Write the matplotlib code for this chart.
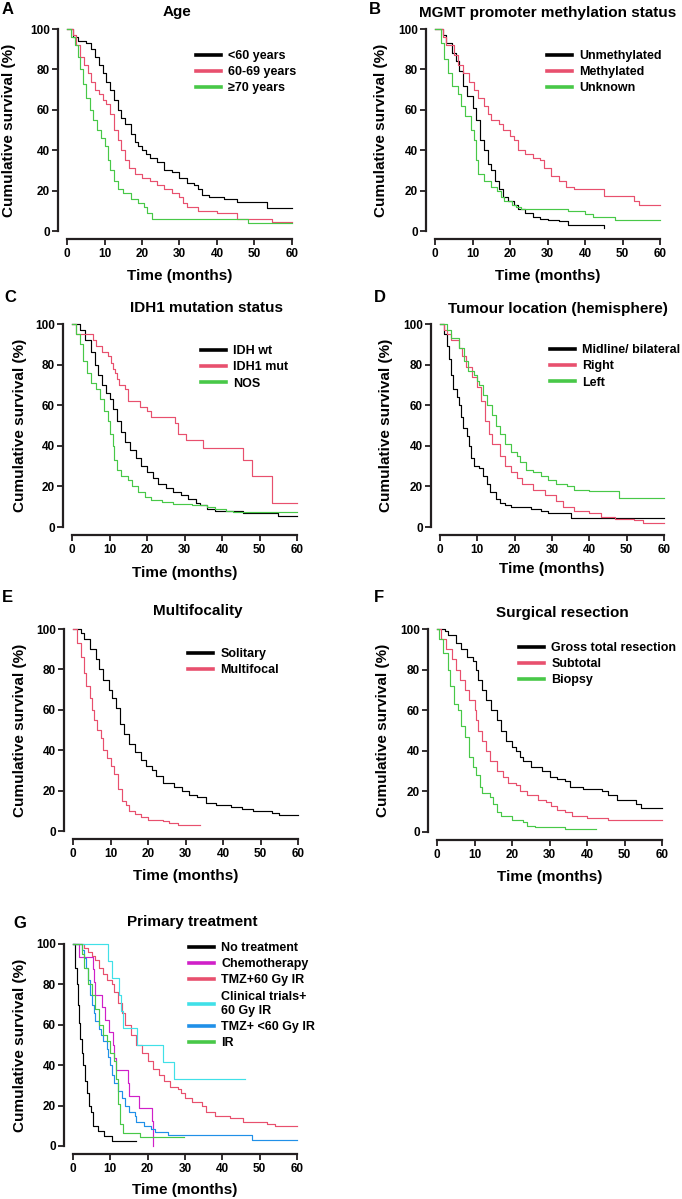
import matplotlib
matplotlib.use('Agg')
import matplotlib.pyplot as plt
from matplotlib.lines import Line2D

plt.rcParams['font.family'] = ['Liberation Sans', 'DejaVu Sans']
plt.rcParams['font.weight'] = 'bold'

W, H = 682, 1199

# colours
BLACK = '#000000'
RED = '#e8506e'
GREEN = '#48c848'
MAGENTA = '#d020c8'
CYAN = '#40e0e8'
BLUE = '#2090e8'

# A - age
a_labels = ['<60 years', '60-69 years', '\u226570 years']
a_lt60_t = [0, 1.5, 3, 5, 6.5, 7.5, 8.5, 9.5, 10.5, 11.5, 12.5, 13.5, 14.5, 15.5, 17, 18, 19, 20, 21, 22, 24, 26, 28, 30, 32, 34, 35, 36, 38, 42, 45.3, 53.3, 60]
a_lt60_s = [100, 96, 94, 93, 90, 86, 82, 78, 74, 70, 65, 60, 56, 53, 48, 44, 42, 40, 38, 36, 34, 30, 29, 26, 24, 23, 21, 18, 17, 16, 14.5, 11.5, 11.5]
a_6069_t = [0, 1.5, 2.5, 3.5, 4.5, 5.5, 6.5, 7.5, 8.5, 9.5, 10.5, 11.5, 12.5, 13.5, 14.5, 15.5, 16.5, 18, 20, 22, 24, 26, 28, 30, 31, 32, 35, 40, 45.3, 54.7, 60]
a_6069_s = [100, 97, 92, 86, 82, 78, 74, 70, 68, 65, 63, 58, 50, 45, 40, 35, 31, 28, 26, 25, 23, 21, 19, 17, 14, 12, 10, 9, 6, 4.5, 4.5]
a_ge70_t = [0, 1, 2, 2.8, 3.5, 4.2, 5, 6, 7, 8, 9, 10, 10.8, 11.5, 12.5, 13.5, 15, 17, 19, 20.5, 21.3, 22.7, 48.3, 60]
a_ge70_s = [100, 96, 92, 86, 80, 73, 66, 60, 55, 50, 46, 42, 35, 30, 25, 21, 19, 16, 14, 12, 9, 6, 4, 4]

# B - MGMT
b_labels = ['Unmethylated', 'Methylated', 'Unknown']
b_unm_t = [0, 2, 3, 4.5, 5.5, 6.5, 7.5, 8.5, 10, 11, 12, 13, 14, 15, 16, 17, 18, 19.5, 21, 22, 24, 26, 28, 30, 33, 35.5, 45]
b_unm_s = [100, 97, 93, 88, 84, 79, 72, 67, 61, 55, 45, 40, 33, 30, 25, 21, 17, 15, 13, 11, 9, 7, 6, 5.5, 5, 3, 1.5]
b_meth_t = [0, 2, 3, 5, 6, 7.5, 9, 10.5, 11.5, 13, 14, 15, 17, 18, 20, 21, 22, 24, 26, 28, 29, 31, 33, 35, 37, 45, 53, 54.5, 60]
b_meth_s = [100, 96, 92, 87, 82, 78, 74, 70, 66, 62, 58, 55, 53, 50, 47, 45, 40, 38, 36, 35, 31, 27, 25, 22, 21, 17.5, 15, 13, 13]
b_unk_t = [0, 1.5, 2.5, 3.5, 4.5, 6, 7, 8, 9.5, 10.3, 11, 11.5, 13, 15, 16.5, 17.5, 18.5, 20.5, 21.5, 23, 35.5, 40, 42, 48, 60]
b_unk_s = [100, 93, 85, 78, 72, 68, 62, 57, 50, 45, 35, 28, 25, 22, 20, 17, 15, 13, 12, 11, 10, 8.5, 7, 5.5, 5.5]

# C - IDH1
c_labels = ['IDH wt', 'IDH1 mut', 'NOS']
c_wt_t = [0, 2, 3.5, 5, 6, 7, 8, 9, 10, 11, 12, 13, 14, 15.5, 17, 18.5, 20, 21.5, 23, 25, 27, 29, 31, 33, 34, 36, 38, 45.5, 55, 60]
c_wt_s = [100, 97, 92, 86, 80, 75, 70, 66, 63, 58, 52, 47, 42, 38, 34, 30, 27, 24, 21, 19, 17, 16, 14, 12, 11, 9, 8, 7, 5.5, 5.5]
c_mut_t = [0, 1, 5.5, 6.5, 8, 9.5, 10.5, 11, 11.5, 12, 12.5, 14, 15, 18, 20, 21, 27.5, 28.3, 30.5, 35, 45.5, 48, 53.2, 60]
c_mut_s = [100, 95, 92, 89, 86, 84, 81, 78, 76, 73, 70, 68, 62, 59, 57, 54, 51, 46, 43, 39, 33, 25, 12, 12]
c_nos_t = [0, 1, 2, 3, 4, 5, 6.5, 7.5, 8.5, 9.5, 10.2, 10.8, 11.3, 12, 13, 15, 16, 17.5, 19.5, 21, 24, 27, 32, 36, 38, 41, 43, 60]
c_nos_s = [100, 95, 90, 82, 76, 71, 68, 63, 57, 52, 46, 40, 33, 28, 25, 23, 20, 17, 15, 13.5, 12.5, 11.5, 11, 10, 9, 8, 7.5, 7.5]

# D - tumour location
d_labels = ['Midline/ bilateral', 'Right', 'Left']
d_mid_t = [0, 1, 2, 2.5, 3, 3.5, 4.5, 5, 5.5, 6.2, 7.2, 7.8, 8.3, 9, 10.5, 11.5, 12.5, 13.5, 15, 16, 17.5, 19, 24.5, 27, 29, 35, 60]
d_mid_s = [100, 95, 89, 83, 75, 68, 64, 60, 54, 49, 45, 40, 34, 30, 29, 25, 21, 17, 14, 12, 11, 10, 9, 8, 7, 4.5, 4.5]
d_right_t = [0, 1, 2, 3, 5, 6, 7, 8.5, 10, 11, 12, 13, 14, 16, 17.5, 19, 20.5, 22, 25, 28, 31, 33, 36, 40, 43, 47, 52, 54.5, 60]
d_right_s = [100, 97, 95, 92, 88, 84, 79, 74, 69, 62, 52, 46, 41, 35, 30, 27, 24, 21, 18, 16, 13, 10, 8, 7, 5, 4, 3.5, 2, 2]
d_left_t = [0, 2, 3, 5, 6.5, 7.5, 9, 10, 10.5, 11.5, 12.5, 14, 15, 16, 17.5, 19, 20.5, 21.5, 23, 25, 27, 29, 31, 34, 36, 40, 48, 60]
d_left_s = [100, 97, 93, 88, 82, 77, 75, 72, 70, 65, 60, 55, 50, 46, 41, 37, 35, 32, 28, 27, 25, 23, 21, 20, 18, 17.5, 14.5, 14.5]

# E - multifocality
e_labels = ['Solitary', 'Multifocal']
e_sol_t = [0, 2, 3, 4.5, 6, 7, 8, 9.5, 10.5, 11.5, 12.5, 13.5, 15, 16.5, 18, 19.5, 21, 22, 24, 27, 29, 31, 33, 35.5, 38, 42, 45, 48, 53, 55, 60]
e_sol_s = [100, 98, 95, 90, 85, 80, 75, 70, 66, 61, 53, 48, 43, 39, 35, 32, 30, 27, 24, 22, 20, 18, 17, 14, 13, 12, 11, 10, 9, 8, 8]
e_mul_t = [0, 1, 2, 3, 3.5, 4.5, 5, 5.5, 6.5, 7.5, 8, 9, 10, 11, 12, 13, 14, 15, 16.5, 18, 20, 24, 25.5, 28, 33.8]
e_mul_s = [100, 93, 86, 78, 72, 66, 60, 55, 50, 46, 40, 36, 32, 28, 21, 15, 13, 10, 8.5, 7, 5.5, 5, 4, 3, 3]

# F - surgical resection
f_labels = ['Gross total resection', 'Subtotal', 'Biopsy']
f_gtr_t = [0, 2, 3, 5, 6.5, 8, 9.5, 10.5, 11, 12, 13, 14.5, 16, 17, 18.5, 20, 21, 22, 23, 25, 28, 30, 32, 34, 35.5, 39, 44, 45.5, 48, 53, 54.5, 60]
f_gtr_s = [100, 99, 97, 93, 90, 86, 84, 80, 75, 70, 65, 60, 55, 50, 45, 42, 40, 37, 35, 32, 30, 27, 26, 25, 22, 21, 20, 18, 16, 14, 12, 12]
f_sub_t = [0, 1, 2.5, 4, 5, 6, 7.5, 8.5, 10, 10.5, 11, 12, 13, 14, 16, 17.5, 19, 21, 22, 24, 27, 29, 30.5, 32, 34, 36, 40, 45.5, 60]
f_sub_s = [100, 95, 90, 85, 80, 75, 70, 65, 60, 55, 50, 45, 40, 35, 30, 27, 24, 23, 20, 18, 16, 15, 13, 11, 10, 8, 7, 6, 6]
f_bio_t = [0, 0.5, 1.5, 3, 3.5, 4.5, 5.5, 6.5, 7.5, 8.5, 9.5, 10.5, 11.5, 12, 14, 15, 16, 17, 20, 23, 24, 26, 34, 42.3]
f_bio_s = [100, 95, 88, 80, 72, 63, 60, 52, 47, 37, 32, 28, 22, 19, 17, 14, 10, 8, 6, 5, 3, 2.5, 1.5, 1.5]

# G - primary treatment
g_labels = ['No treatment', 'Chemotherapy', 'TMZ+60 Gy IR', 'Clinical trials+\n60 Gy IR', 'TMZ+ <60 Gy IR', 'IR']
g_none_t = [0, 0.5, 1, 1.3, 1.7, 2, 2.4, 2.8, 3.3, 3.8, 4.3, 4.8, 5.3, 6.8, 8.3, 10.5, 17]
g_none_s = [100, 88, 80, 70, 61, 53, 46, 40, 32, 26, 20, 17, 10, 7.5, 5, 2.5, 2.5]
g_chemo_t = [0, 1.5, 5.3, 5.6, 6, 7.8, 8.5, 9.6, 10.8, 11, 11.5, 14.8, 15.1, 17.8, 21.1, 21.3]
g_chemo_s = [100, 93.75, 87.5, 81.25, 75, 68.75, 62.5, 56.25, 50, 43.75, 37.5, 31.25, 25, 18.75, 12.5, 0]
g_tmz60_t = [0, 3, 4, 5, 6, 7, 8, 9, 10.5, 11, 12, 13, 14, 15.5, 17, 18.5, 20, 21.5, 23, 24.5, 26, 28, 29, 30, 32, 34.5, 35.5, 38, 42, 45.5, 52, 54, 60]
g_tmz60_s = [100, 98, 96, 94, 92, 88, 85, 82, 80, 76, 71, 66, 60, 55, 50, 46, 42, 38, 35, 32, 29, 28, 26, 24, 22, 20, 17, 15, 14, 12, 11, 10, 10]
g_trial_t = [0, 9.5, 10.4, 12.2, 12.8, 13.4, 17.1, 24.2, 27.1, 46]
g_trial_s = [100, 91.67, 83.33, 75, 66.67, 58.33, 50, 41.67, 33.33, 33.33]
g_tmzlt_t = [0, 2.5, 3, 3.5, 4, 4.5, 5, 5.5, 6, 7, 7.5, 8, 9, 9.5, 10, 10.5, 11, 12, 13, 14, 15, 16.5, 17, 19, 21, 22, 25.5, 48, 60]
g_tmzlt_s = [100, 97, 93, 88, 82, 75, 70, 66, 62, 58, 55, 52, 48, 44, 40, 35, 31, 27, 24, 20, 17, 15, 12, 10, 8.5, 7, 5.5, 3, 3]
g_ir_t = [0, 2.3, 3, 4, 5, 6, 7, 8, 9, 10, 11, 11.5, 12, 12.5, 13.5, 18, 29.8]
g_ir_s = [100, 95, 88, 80, 75, 68, 60, 55, 52, 46, 42, 33, 21, 11, 6.5, 4.5, 4.5]

x_ticks = [0, 10, 20, 30, 40, 50, 60]
y_ticks = [0, 20, 40, 60, 80, 100]

fig = plt.figure(figsize=(W / 100, H / 100), dpi=100)


def panel(box, letter, letter_xy, title, title_xy, xlab_y, ylab_x, curves, labels, leg_xy):
    x0, x1, ytop, ybot = box
    ax = fig.add_axes([x0 / W, 1 - ybot / H, (x1 - x0) / W, (ybot - ytop) / H])
    for (t, s, c) in curves:
        ax.plot(t, s, drawstyle='steps-post', color=c, lw=0.85, clip_on=False)
    ax.set_xlim(0, 60)
    ax.set_ylim(0, 100)
    ax.set_xticks(x_ticks)
    ax.set_yticks(y_ticks)
    for side in ['top', 'right']:
        ax.spines[side].set_visible(False)
    ax.spines['left'].set_position(('outward', 6.5))
    ax.spines['bottom'].set_position(('outward', 6))
    ax.spines['left'].set_bounds(0, 100)
    ax.spines['bottom'].set_bounds(0, 60)
    for side in ['left', 'bottom']:
        ax.spines[side].set_linewidth(1.6)
        ax.spines[side].set_color('#231f20')
    ax.tick_params(direction='out', length=4, width=1.3, color='#231f20',
                   labelsize=8.5, pad=2)
    for lab in ax.get_xticklabels() + ax.get_yticklabels():
        lab.set_fontweight('bold')
    handles = [Line2D([], [], color=c, lw=2.6) for (_, _, c) in curves]
    leg = ax.legend(handles, labels, loc='upper left', bbox_to_anchor=leg_xy,
                    frameon=False, borderpad=0, handlelength=2.0, handletextpad=0.6,
                    labelspacing=0.33, prop={'size': 9, 'weight': 'bold'})
    for txt in leg.get_texts():
        txt.set_linespacing(1.3)
    fig.text(title_xy[0] / W, 1 - title_xy[1] / H, title, ha='center', va='center',
             fontsize=11, fontweight='bold')
    fig.text((x0 + x1) / 2 / W, 1 - xlab_y / H, 'Time (months)', ha='center', va='center',
             fontsize=11, fontweight='bold')
    fig.text(ylab_x / W, 1 - (ytop + ybot) / 2 / H, 'Cumulative survival (%)',
             ha='center', va='center', rotation=90, fontsize=11, fontweight='bold')
    fig.text(letter_xy[0] / W, 1 - letter_xy[1] / H, letter, ha='left', va='center',
             fontsize=12, fontweight='bold')
    return ax


panel((67, 292, 29, 231), 'A', (2, 10), 'Age', (177, 12), 276, 9,
      [(a_lt60_t, a_lt60_s, BLACK), (a_6069_t, a_6069_s, RED), (a_ge70_t, a_ge70_s, GREEN)],
      a_labels, (0.544, 0.926))
panel((435, 660, 29, 231), 'B', (369, 10), 'MGMT promoter methylation status', (548, 13), 276, 381,
      [(b_unm_t, b_unm_s, BLACK), (b_meth_t, b_meth_s, RED), (b_unk_t, b_unk_s, GREEN)],
      b_labels, (0.469, 0.926))
panel((72, 297, 324, 527), 'C', (4, 298), 'IDH1 mutation status', (206, 308), 573, 20,
      [(c_wt_t, c_wt_s, BLACK), (c_mut_t, c_mut_s, RED), (c_nos_t, c_nos_s, GREEN)],
      c_labels, (0.544, 0.926))
panel((440, 664, 324, 527), 'D', (374, 298), 'Tumour location (hemisphere)', (558, 309), 569, 386,
      [(d_mid_t, d_mid_s, BLACK), (d_right_t, d_right_s, RED), (d_left_t, d_left_s, GREEN)],
      d_labels, (0.462, 0.931))
panel((73, 298, 629, 831), 'E', (2, 598), 'Multifocality', (198, 611), 876, 20,
      [(e_sol_t, e_sol_s, BLACK), (e_mul_t, e_mul_s, RED)],
      e_labels, (0.482, 0.936))
panel((437, 662, 629, 832), 'F', (374, 598), 'Surgical resection', (562, 613), 877, 383,
      [(f_gtr_t, f_gtr_s, BLACK), (f_sub_t, f_sub_s, RED), (f_bio_t, f_bio_s, GREEN)],
      f_labels, (0.336, 0.966))
panel((73, 297, 944, 1146), 'G', (13, 923), 'Primary treatment', (192, 922), 1190, 20,
      [(g_none_t, g_none_s, BLACK), (g_chemo_t, g_chemo_s, MAGENTA), (g_tmz60_t, g_tmz60_s, RED),
       (g_trial_t, g_trial_s, CYAN), (g_tmzlt_t, g_tmzlt_s, BLUE), (g_ir_t, g_ir_s, GREEN)],
      g_labels, (0.489, 1.04))

fig.savefig('out.png', dpi=100)
